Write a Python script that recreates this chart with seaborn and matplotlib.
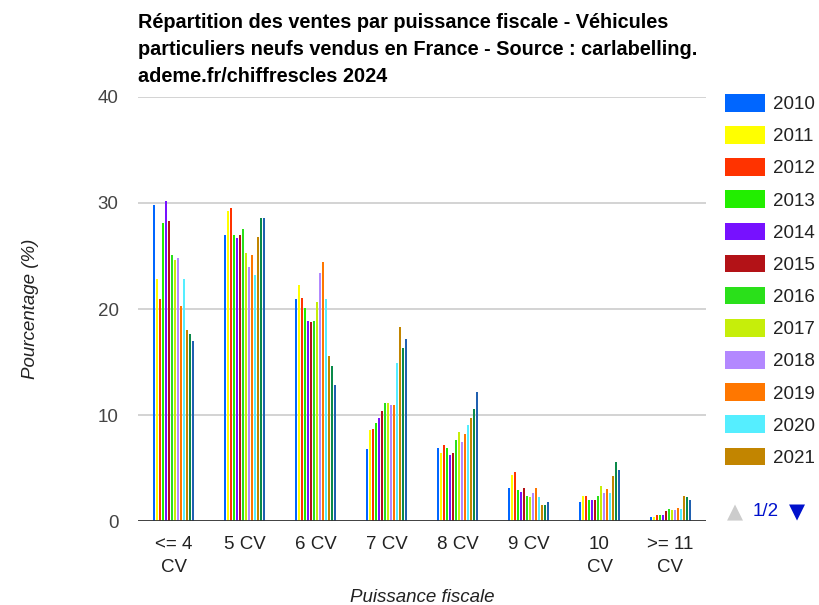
import pandas as pd
import matplotlib.pyplot as plt
import seaborn as sns

# Values (percent of sales)
categories = ['<= 4\nCV', '5 CV', '6 CV', '7 CV', '8 CV', '9 CV', '10\nCV', '>= 11\nCV']
years = [str(y) for y in range(2010, 2024)]

values = {
    '2010': [29.8, 27.0, 20.9, 6.8, 6.9, 3.1, 1.8, 0.4],
    '2011': [22.8, 29.2, 22.3, 8.6, 6.4, 4.3, 2.4, 0.4],
    '2012': [20.9, 29.5, 21.0, 8.7, 7.2, 4.6, 2.4, 0.6],
    '2013': [28.1, 27.0, 20.1, 9.2, 6.9, 2.9, 2.0, 0.6],
    '2014': [30.2, 26.7, 18.9, 9.7, 6.2, 2.7, 2.0, 0.6],
    '2015': [28.3, 27.0, 18.8, 10.4, 6.4, 3.1, 2.0, 0.9],
    '2016': [25.1, 27.5, 18.9, 11.1, 7.6, 2.4, 2.4, 1.1],
    '2017': [24.6, 25.3, 20.7, 11.1, 8.4, 2.3, 3.3, 1.0],
    '2018': [24.8, 24.0, 23.4, 10.9, 7.5, 2.6, 2.6, 1.0],
    '2019': [20.3, 25.1, 24.4, 10.9, 8.2, 3.1, 3.0, 1.2],
    '2020': [22.8, 23.2, 20.9, 14.9, 9.1, 2.3, 2.6, 1.1],
    '2021': [18.0, 26.8, 15.6, 18.3, 9.7, 1.5, 4.2, 2.4],
    '2022': [17.6, 28.6, 14.6, 16.3, 10.6, 1.5, 5.6, 2.3],
    '2023': [17.0, 28.6, 12.8, 17.2, 12.2, 1.8, 4.8, 2.0],
}

colors = ['#0066ff', '#ffff00', '#ff3300', '#22ee00', '#7711ff', '#b31217',
          '#2ae01a', '#c6ee0a', '#b388ff', '#ff7700', '#55eeff', '#c28500',
          '#0a8a4a', '#2060b0']

rows = []
for y in years:
    for c, v in zip(categories, values[y]):
        rows.append({'cat': c, 'year': y, 'val': v})
df = pd.DataFrame(rows)

sns.set_style('white')
plt.rcParams['font.family'] = ['Liberation Sans', 'DejaVu Sans']

fig = plt.figure(figsize=(8.19, 6.05), dpi=100)
ax = fig.add_axes([138 / 819, 84 / 605, 568 / 819, 424 / 605])

sns.barplot(data=df, x='cat', y='val', hue='year', palette=colors, order=categories,
            hue_order=years, width=0.59, gap=0.33, errorbar=None, linewidth=0,
            saturation=1, ax=ax)

ax.set_ylim(0, 40)
ax.set_xlim(-0.5, 7.5)
ax.set_yticks([0, 10, 20, 30, 40])
ax.yaxis.grid(True, color='#cccccc', linewidth=1.2)
ax.set_axisbelow(True)
ax.axhline(0, color='#333333', linewidth=2)
for s in ax.spines.values():
    s.set_visible(False)
ax.tick_params(axis='y', length=0, pad=14, labelsize=13.5, labelcolor='#444444')
ax.tick_params(axis='x', length=0, pad=11, labelsize=13.5, labelcolor='#222222')
for lbl in ax.get_xticklabels():
    lbl.set_linespacing(1.45)

ax.set_xlabel('Puissance fiscale', fontsize=13.5, fontstyle='italic', color='#222222', labelpad=9)
ax.set_ylabel('Pourcentage (%)', fontsize=13.5, fontstyle='italic', color='#222222', labelpad=42)

fig.text(138 / 819, 1 - 13 / 605,
         'Répartition des ventes par puissance fiscale - Véhicules\n'
         'particuliers neufs vendus en France - Source : carlabelling.\n'
         'ademe.fr/chiffrescles 2024',
         ha='left', va='top', fontsize=14.3, fontweight='bold', color='black',
         linespacing=1.52)

# legend: first page (12 entries) like the original
handles, labels = ax.get_legend_handles_labels()
ax.legend(handles[:12], labels[:12], loc='upper left', bbox_to_anchor=(725 / 819, 1 - 94 / 605),
          bbox_transform=fig.transFigure, frameon=False, fontsize=13.5, borderpad=0,
          borderaxespad=0, handlelength=2.15, handleheight=1.07, handletextpad=0.42,
          labelspacing=0.69, labelcolor='#222222')

fig.text(735 / 819, 1 - 512 / 605, '▲', ha='center', va='center', fontsize=15,
         color='#cccccc', family='DejaVu Sans')
fig.text(766 / 819, 1 - 512 / 605, '1/2', ha='center', va='center', fontsize=13.5,
         color='#0011cc')
fig.text(797 / 819, 1 - 512 / 605, '▼', ha='center', va='center', fontsize=15,
         color='#0011cc', family='DejaVu Sans')

fig.savefig('out.png', dpi=100)
